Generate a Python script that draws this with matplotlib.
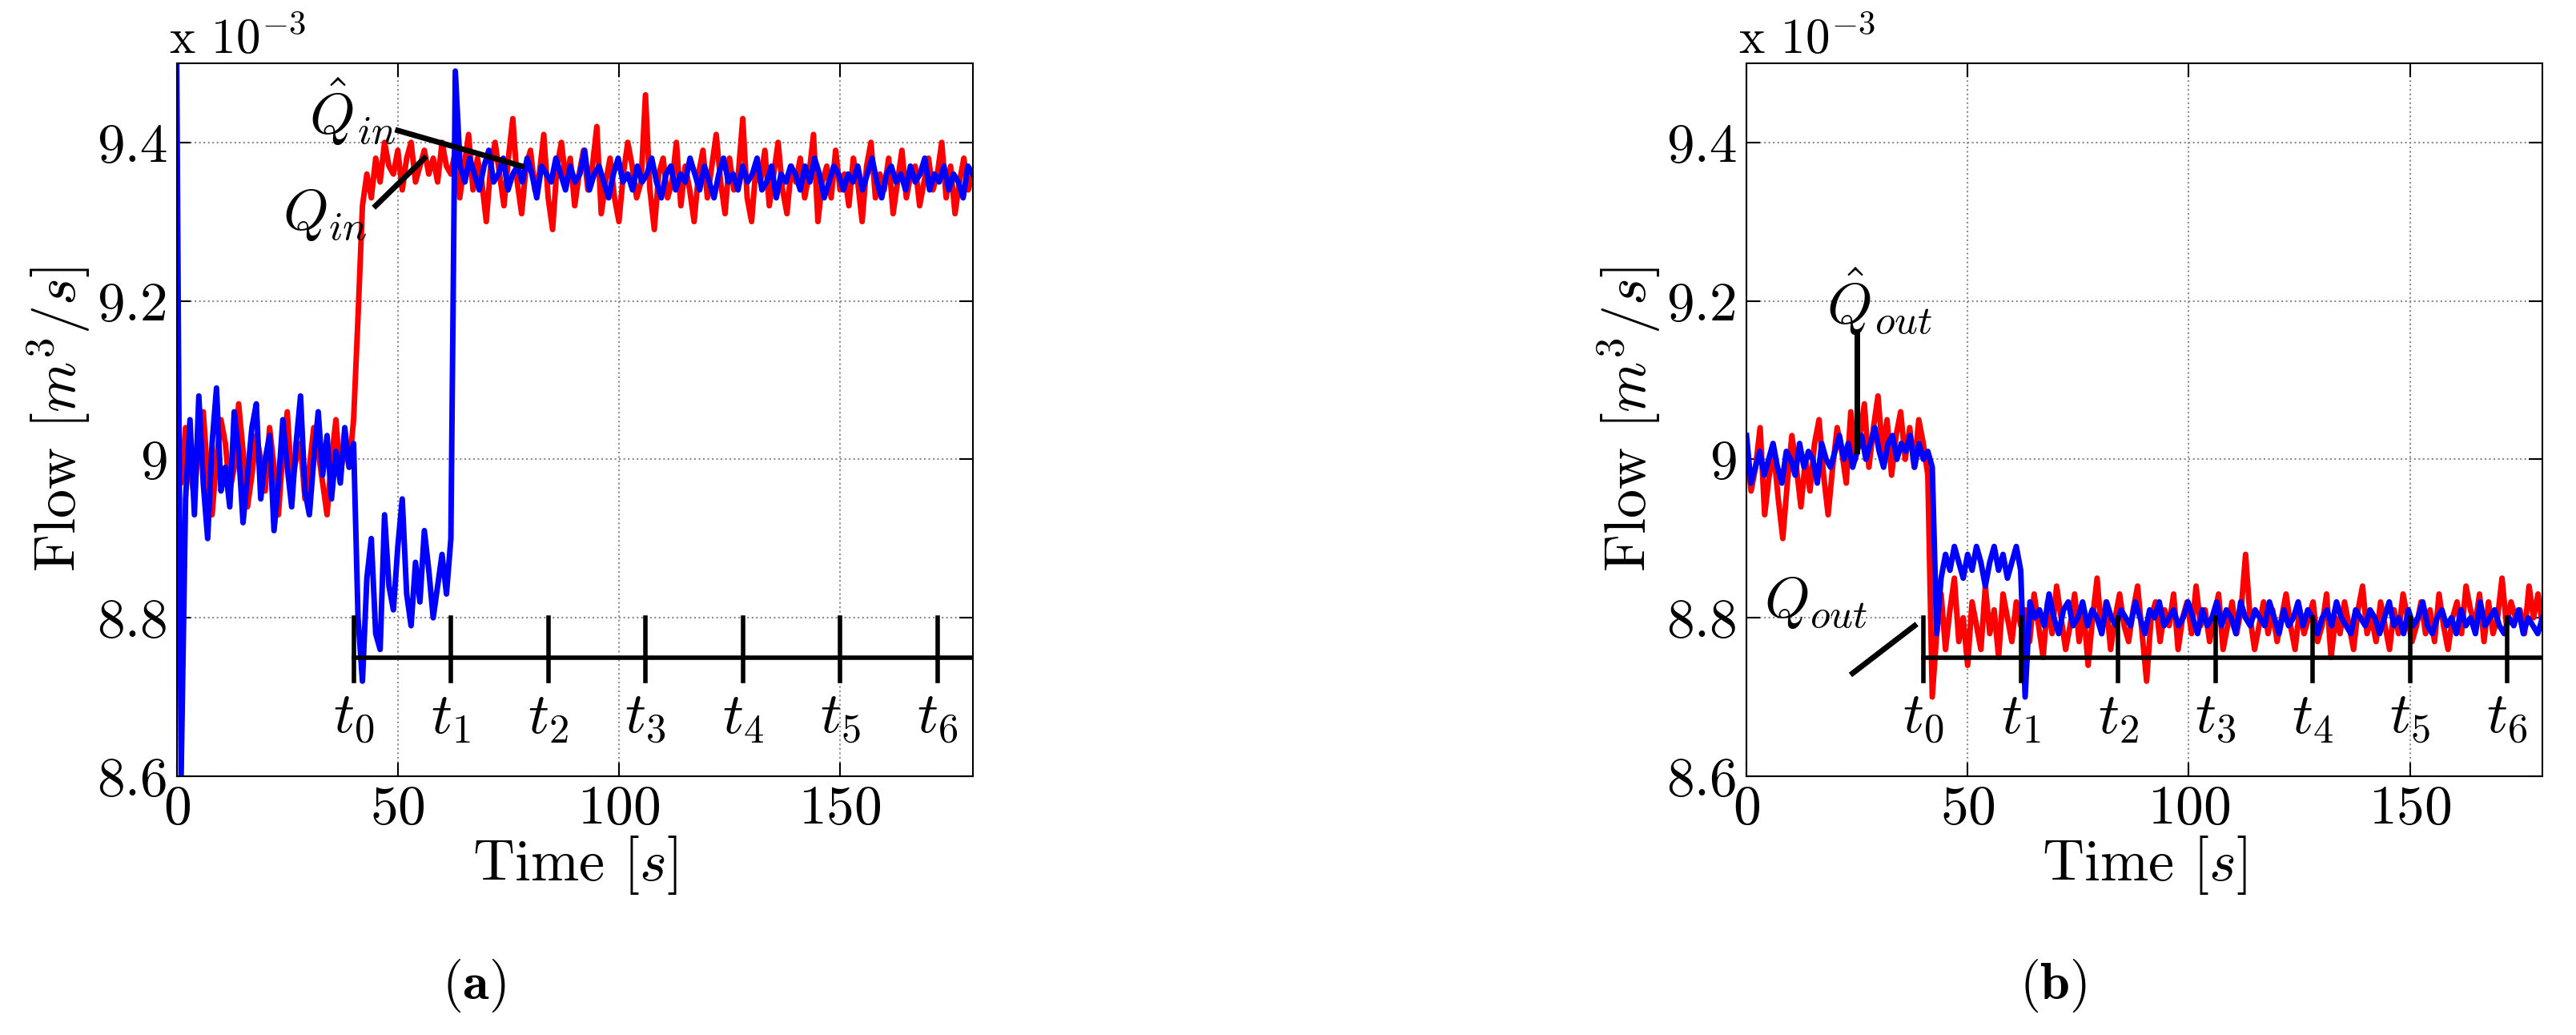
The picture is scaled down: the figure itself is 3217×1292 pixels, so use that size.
import numpy as np
import matplotlib
matplotlib.use("Agg")
import matplotlib.pyplot as plt

plt.rcParams['font.family'] = ['cmr10', 'DejaVu Serif']
plt.rcParams['mathtext.fontset'] = 'cm'
plt.rcParams['axes.formatter.use_mathtext'] = True

# flow values in units of 1e-5 m^3/s (divide by 100 -> 1e-3 units)
# panel (a): measured inflow Q_in (red), estimate Q_hat_in (blue)
red_in_0_39 = [901, 897, 904, 899, 895, 903, 906, 898, 893, 900, 905, 902, 896, 899, 907, 901, 894, 898, 903, 900,
               896, 904, 899, 893, 901, 906, 897, 900, 902, 895, 899, 904, 901, 897, 893, 900, 905, 898, 902, 899]
red_in_40_48 = [905, 918, 932, 936, 933, 938, 935, 940, 937]
red_in_49_61 = [936, 939, 934, 938, 940, 935, 937, 939, 936, 938, 935, 940, 937]
red_in_62_180 = [936, 939, 933, 937, 941, 934, 938, 935, 930, 937, 940, 936, 932, 938, 943, 935, 931, 937, 939, 934,
                 936, 941, 933, 929, 937, 940, 935, 938, 932, 936, 939, 934, 937, 942, 931, 935, 938, 933, 930, 936,
                 940, 937, 933, 935, 946, 934, 929, 936, 938, 933, 935, 940, 932, 937, 934, 930, 936, 939, 933, 937,
                 941, 935, 931, 938, 934, 936, 943, 933, 930, 937, 935, 939, 932, 936, 940, 934, 931, 937, 935, 938,
                 933, 936, 941, 930, 935, 937, 933, 939, 934, 936, 932, 938, 935, 930, 937, 940, 933, 936, 934, 938,
                 931, 935, 939, 933, 936, 937, 932, 935, 938, 934, 936, 940, 933, 937, 931, 935, 938, 934, 936]

blue_in_0_2 = [950, 860, 895]
blue_in_3_40 = [905, 893, 908, 897, 890, 902, 909, 896, 899, 894, 906, 901, 892, 898, 904, 907, 895, 900, 903, 891,
                897, 905, 899, 894, 902, 908, 896, 893, 900, 906, 898, 903, 895, 901, 897, 904, 899, 902]
blue_in_41_62 = [880, 872, 885, 890, 878, 876, 893, 884, 881, 889, 895, 883, 879, 887, 882, 891, 886, 880, 884, 888,
                 883, 890]
blue_in_63_180 = [949, 937, 935, 938, 936, 934, 937, 939, 935, 936, 938, 934, 936, 937, 935, 938, 936, 933, 937, 936,
                  935, 938, 936, 934, 937, 935, 936, 939, 934, 936, 937, 935, 933, 936, 938, 935, 936, 934, 937, 935,
                  936, 938, 935, 933, 936, 937, 934, 936, 935, 938, 936, 934, 937, 935, 933, 936, 938, 935, 936, 934,
                  937, 935, 936, 938, 934, 935, 937, 933, 936, 935, 937, 936, 934, 937, 935, 938, 936, 933, 935, 937,
                  936, 934, 936, 935, 937, 934, 936, 938, 935, 933, 936, 937, 935, 936, 934, 937, 935, 936, 938, 934,
                  936, 935, 937, 934, 936, 935, 933, 937, 936]

# panel (b): measured outflow Q_out (red), estimate Q_hat_out (blue)
red_out_0_41 = [902, 896, 899, 904, 893, 898, 901, 895, 890, 897, 903, 899, 894, 900, 896, 902, 905, 898, 893, 899,
                904, 901, 897, 906, 900, 903, 907, 899, 904, 908, 901, 905, 898, 903, 906, 900, 904, 899, 905, 902, 898]
red_out_42_62 = [870, 878, 883, 876, 881, 885, 877, 880, 874, 882, 879, 876, 884, 878, 881, 875, 883, 880, 877, 882, 879]
red_out_63_180 = [881, 877, 883, 879, 875, 882, 878, 884, 880, 876, 879, 883, 877, 881, 874, 880, 885, 878, 882, 876,
                  880, 883, 879, 877, 881, 884, 878, 872, 880, 882, 877, 881, 879, 883, 876, 880, 882, 878, 884, 879,
                  881, 877, 880, 883, 876, 879, 882, 878, 881, 888, 880, 876, 879, 882, 878, 881, 877, 880, 883, 879,
                  876, 881, 878, 880, 882, 877, 879, 883, 875, 880, 878, 882, 879, 876, 881, 884, 878, 880, 877, 882,
                  879, 876, 881, 878, 883, 880, 877, 879, 882, 878, 881, 877, 883, 879, 876, 880, 882, 878, 884, 881,
                  879, 883, 877, 882, 878, 880, 885, 879, 882, 880, 881, 878, 884, 880, 883, 879]

blue_out_0_42 = [903, 897, 899, 901, 898, 900, 902, 899, 897, 901, 900, 898, 902, 899, 901, 900, 897, 902, 900, 899,
                 901, 903, 900, 902, 899, 901, 903, 900, 902, 904, 901, 899, 902, 903, 900, 902, 901, 903, 899, 902,
                 900, 901, 899]
blue_out_43_62 = [878, 885, 888, 886, 889, 887, 885, 888, 886, 889, 887, 884, 887, 889, 886, 888, 885, 887, 889, 886]
blue_out_63_180 = [870, 882, 880, 881, 879, 883, 880, 878, 881, 882, 879, 880, 882, 879, 881, 880, 878, 882, 880, 879,
                   881, 880, 879, 882, 880, 878, 881, 880, 882, 879, 880, 881, 879, 880, 882, 880, 878, 881, 879, 880,
                   882, 879, 881, 880, 878, 882, 880, 879, 881, 880, 879, 882, 880, 878, 881, 879, 880, 882, 879, 881,
                   880, 878, 880, 881, 879, 882, 880, 879, 878, 881, 880, 879, 881, 880, 878, 880, 882, 879, 880, 878,
                   881, 879, 880, 882, 879, 878, 880, 881, 879, 880, 878, 881, 879, 880, 878, 882, 879, 880, 881, 879,
                   878, 880, 879, 881, 878, 880, 879, 878, 880]

event_times = [40, 62, 84, 106, 128, 150, 172]
event_labels = ['$t_%d$' % i for i in range(7)]


def build(segments):
    """Join (start, stop, values) segments into one time/value series."""
    ts, vs = [], []
    for start, stop, vals in segments:
        ts.append(np.linspace(start, stop, len(vals)))
        vs.append(np.array(vals) / 100.0)
    return np.concatenate(ts), np.concatenate(vs)


red_in = build([(0, 39, red_in_0_39), (40, 48, red_in_40_48), (49, 61, red_in_49_61), (62, 180, red_in_62_180)])
blue_in = build([(0, 2, blue_in_0_2), (3, 40, blue_in_3_40), (41, 62, blue_in_41_62), (63, 180, blue_in_63_180)])
red_out = build([(0, 41, red_out_0_41), (42, 62, red_out_42_62), (63, 180, red_out_63_180)])
blue_out = build([(0, 42, blue_out_0_42), (43, 62, blue_out_43_62), (63, 180, blue_out_63_180)])

fig = plt.figure(figsize=(32.17, 12.92), dpi=100)
ax_a = fig.add_axes([0.0686, 0.25, 0.309, 0.689])
ax_b = fig.add_axes([0.678, 0.25, 0.309, 0.689])

FS = 50
LW = 5


def style(ax):
    ax.set_xlim(0, 180)
    ax.set_ylim(8.6, 9.5)
    ax.set_xticks([0, 50, 100, 150])
    ax.set_yticks([8.6, 8.8, 9.0, 9.2, 9.4])
    ax.set_yticklabels(['8.6', '8.8', '9', '9.2', '9.4'])
    ax.tick_params(labelsize=FS, direction='in', length=12, width=1.5, top=True, right=True, pad=8)
    for s in ax.spines.values():
        s.set_linewidth(1.5)
    ax.grid(True, linestyle=':', color='0.55', linewidth=1.5)
    ax.set_xlabel('Time $[s]$', fontsize=FS + 2, labelpad=0)
    ax.set_ylabel('Flow $[m^3/s]$', fontsize=FS + 2, labelpad=4)
    ax.text(-0.01, 1.0, r'x $10^{-3}$', transform=ax.transAxes, fontsize=FS - 6, va='bottom')
    # event timeline
    ax.plot([event_times[0], 180], [8.75, 8.75], color='black', lw=LW - 1)
    for t, lab in zip(event_times, event_labels):
        ax.plot([t, t], [8.72, 8.8], color='black', lw=LW - 1)
        ax.text(t, 8.705, lab, fontsize=FS + 2, ha='center', va='top')


ax_a.plot(*red_in, color='#ff0000', lw=LW)
ax_a.plot(*blue_in, color='#0000ff', lw=LW)
style(ax_a)
ax_a.plot([50, 78], [9.415, 9.37], color='black', lw=LW)
ax_a.text(30, 9.41, r'$\hat{Q}_{in}$', fontsize=FS + 2)
ax_a.plot([45, 56], [9.32, 9.38], color='black', lw=LW)
ax_a.text(24, 9.29, r'$Q_{in}$', fontsize=FS + 2)

ax_b.plot(*red_out, color='#ff0000', lw=LW)
ax_b.plot(*blue_out, color='#0000ff', lw=LW)
style(ax_b)
ax_b.plot([25, 25], [9.16, 9.01], color='black', lw=LW)
ax_b.text(18, 9.17, r'$\hat{Q}_{out}$', fontsize=FS + 2)
ax_b.plot([24, 38], [8.73, 8.79], color='black', lw=LW)
ax_b.text(4, 8.8, r'$Q_{out}$', fontsize=FS + 2)

fig.text(0.184, 0.035, r'($\mathbf{a}$)', fontsize=FS - 2, ha='center')
fig.text(0.797, 0.035, r'($\mathbf{b}$)', fontsize=FS - 2, ha='center')

fig.savefig('out.png', dpi=100)
